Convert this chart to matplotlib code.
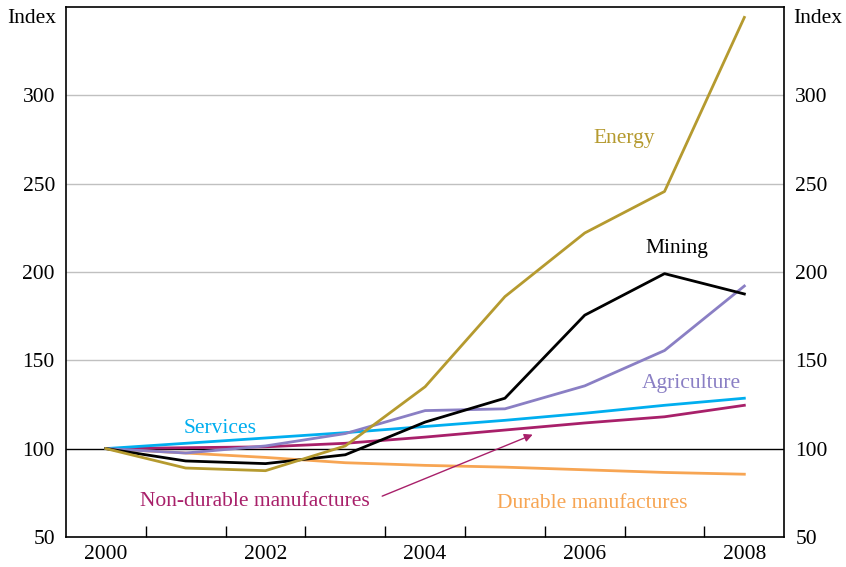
import matplotlib.pyplot as plt

plt.rcParams['font.family'] = ['Liberation Serif', 'DejaVu Serif']

years = [2000, 2001, 2002, 2003, 2004, 2005, 2006, 2007, 2008]
energy = [100, 89, 87.5, 101.5, 135, 186, 222, 245.5, 344]
mining = [100, 93, 91.5, 96.5, 115, 128.5, 175.5, 199, 187.5]
agriculture = [100, 97.5, 101.5, 108.5, 121.5, 122.5, 135.5, 155.5, 192]
services = [100, 103, 106, 109, 112.5, 116, 120, 124.5, 128.5]
non_durable = [100, 100.5, 101, 103, 106.5, 110.5, 114.5, 118, 124.5]
durable = [100, 97.5, 95, 92, 90.5, 89.5, 88, 86.5, 85.5]

fig = plt.figure(figsize=(8.46, 5.67), dpi=100)
ax = fig.add_axes([0.078, 0.053, 0.849, 0.935])

for v in [150, 200, 250, 300]:
    ax.axhline(v, color='#c0c0c0', lw=1, zorder=0)
ax.axhline(100, color='black', lw=1, zorder=1)

ax.plot(years, durable, color='#F7A553', lw=2)
ax.plot(years, non_durable, color='#A8206A', lw=2)
ax.plot(years, services, color='#00AEEF', lw=2)
ax.plot(years, agriculture, color='#8A7FC4', lw=2)
ax.plot(years, mining, color='black', lw=2)
ax.plot(years, energy, color='#B59A2F', lw=2)

fs = 15.5
ax.text(2006.5, 275.5, 'Energy', color='#B59A2F', fontsize=fs, ha='center', va='center')
ax.text(2007.15, 213.5, 'Mining', color='black', fontsize=fs, ha='center', va='center')
ax.text(2007.33, 137, 'Agriculture', color='#8A7FC4', fontsize=fs, ha='center', va='center')
ax.text(2001.43, 111.3, 'Services', color='#00AEEF', fontsize=fs, ha='center', va='center')
ax.text(2001.87, 70.3, 'Non-durable manufactures', color='#A8206A', fontsize=fs, ha='center', va='center')
ax.text(2006.09, 69, 'Durable manufactures', color='#F7A553', fontsize=fs, ha='center', va='center')
ax.annotate('', xy=(2005.38, 108.5), xytext=(2003.43, 72.5),
            arrowprops=dict(arrowstyle='-|>', color='#A8206A', lw=1, mutation_scale=12))

ax.set_xlim(1999.5, 2008.5)
ax.set_ylim(50, 350)
ax.set_xticks([2000, 2002, 2004, 2006, 2008])
ax.set_xticks([y + 0.5 for y in years[:-1]], minor=True)
ax.tick_params(axis='x', which='major', length=0, labelsize=fs, pad=6)
ax.tick_params(axis='x', which='minor', direction='in', length=8, width=1)
ax.set_yticks([50, 100, 150, 200, 250, 300])
ax.tick_params(axis='y', length=0, labelsize=fs, labelright=True, pad=8)
for s in ax.spines.values():
    s.set_linewidth(1.2)

fig.text(0.008, 0.985, 'Index', fontsize=fs, ha='left', va='top')
fig.text(0.938, 0.985, 'Index', fontsize=fs, ha='left', va='top')

fig.savefig('out.png', dpi=100)
